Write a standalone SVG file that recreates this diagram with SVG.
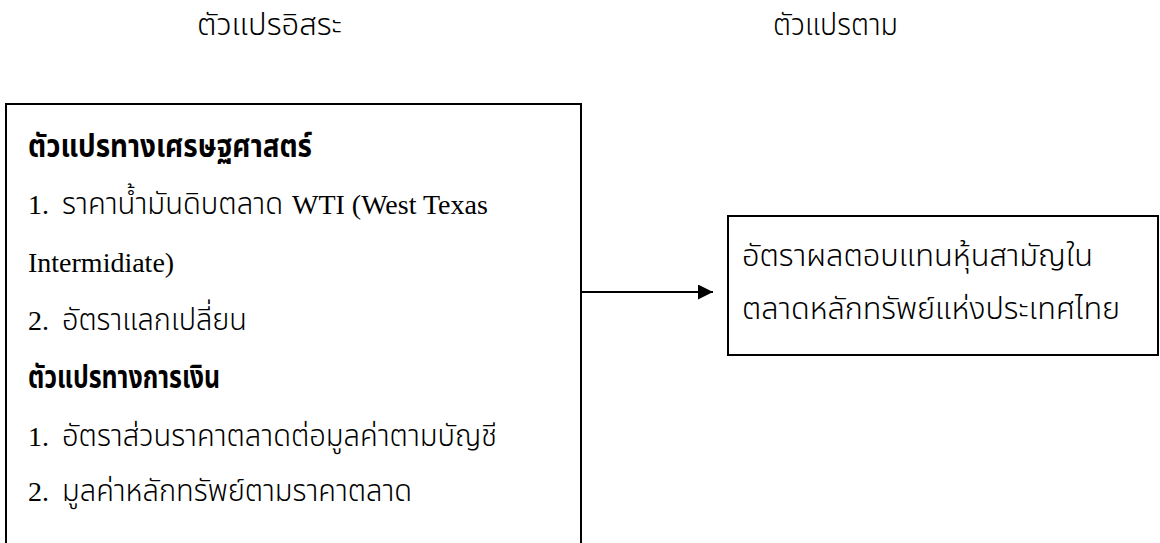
<svg xmlns="http://www.w3.org/2000/svg" width="1160" height="543" viewBox="0 0 1160 543">
<defs>
<style>
.t{font-family:"Noto Sans Thai","Liberation Serif",sans-serif;font-size:31px;font-weight:300;fill:#000}
.l{font-family:"Liberation Serif","Times New Roman",serif;font-size:28px;fill:#000}
.b{font-weight:bold}
.box{fill:none;stroke:#000;stroke-width:2}
.con{stroke:#000;stroke-width:2;fill:none}
</style>
<marker id="ah" markerWidth="15" markerHeight="15" refX="15" refY="7.5" orient="auto" markerUnits="userSpaceOnUse">
<path d="M0,0 L15,7.5 L0,15 Z" fill="#000"/>
</marker>
</defs>
<rect width="1160" height="543" fill="#fff"/>
<g id="title-independent"><text class="t" x="197" y="35" textLength="145" lengthAdjust="spacingAndGlyphs">ตัวแปรอิสระ</text></g>
<g id="title-dependent"><text class="t" x="773" y="35" textLength="125" lengthAdjust="spacingAndGlyphs">ตัวแปรตาม</text></g>
<g id="independent">
<rect class="box" x="6" y="104" width="575" height="470"/>
<text class="t b" x="28" y="157" textLength="284" lengthAdjust="spacingAndGlyphs">ตัวแปรทางเศรษฐศาสตร์</text>
<text class="l" x="28" y="214">1.</text>
<text class="t" x="62" y="214" textLength="221" lengthAdjust="spacingAndGlyphs">ราคาน้ำมันดิบตลาด</text>
<text class="l" x="292" y="214">WTI (West Texas</text>
<text class="l" x="28" y="272">Intermidiate)</text>
<text class="l" x="28" y="330">2.</text>
<text class="t" x="62" y="330" textLength="185" lengthAdjust="spacingAndGlyphs">อัตราแลกเปลี่ยน</text>
<text class="t b" x="28" y="388" textLength="192" lengthAdjust="spacingAndGlyphs">ตัวแปรทางการเงิน</text>
<text class="l" x="28" y="446">1.</text>
<text class="t" x="62" y="446" textLength="435" lengthAdjust="spacingAndGlyphs">อัตราส่วนราคาตลาดต่อมูลค่าตามบัญชี</text>
<text class="l" x="28" y="501">2.</text>
<text class="t" x="62" y="501" textLength="350" lengthAdjust="spacingAndGlyphs">มูลค่าหลักทรัพย์ตามราคาตลาด</text>
</g>
<g id="dependent">
<rect class="box" x="728" y="216" width="430" height="139"/>
<text class="t" x="742" y="266" textLength="351" lengthAdjust="spacingAndGlyphs">อัตราผลตอบแทนหุ้นสามัญใน</text>
<text class="t" x="742" y="319" textLength="378" lengthAdjust="spacingAndGlyphs">ตลาดหลักทรัพย์แห่งประเทศไทย</text>
</g>
<g id="connectors">
<line class="con" x1="581" y1="292" x2="713" y2="292" marker-end="url(#ah)"/>
</g>
</svg>
